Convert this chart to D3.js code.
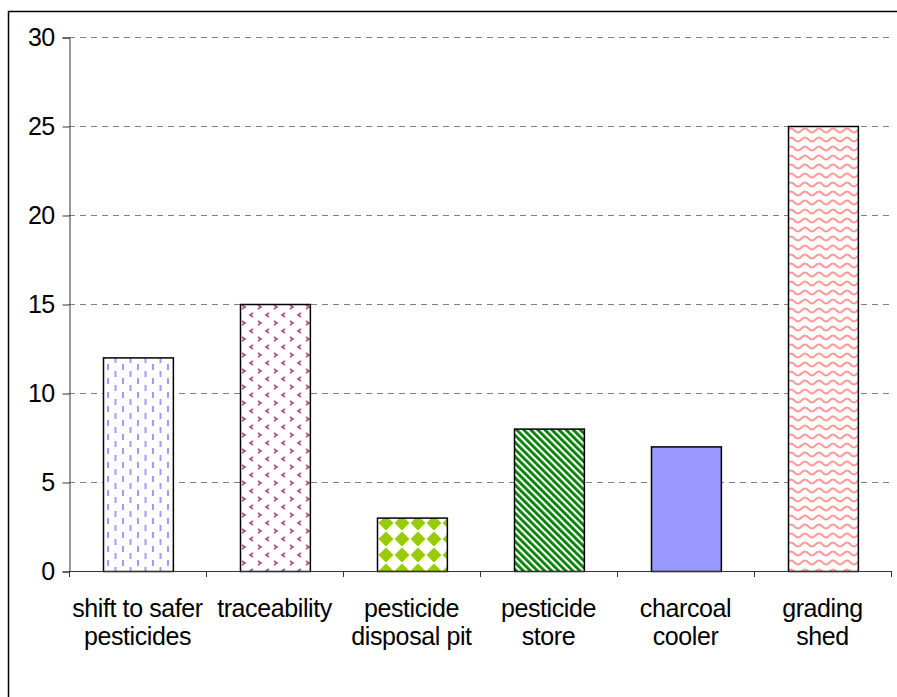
<!DOCTYPE html>
<html><head><meta charset="utf-8">
<script src="https://cdn.jsdelivr.net/npm/d3@7"></script>
<style>body{margin:0;background:#fff}svg{display:block}</style>
</head><body>
<svg id="c" width="897" height="697"></svg>
<script>
const categories = [["shift to safer","pesticides"],["traceability"],["pesticide","disposal pit"],["pesticide","store"],["charcoal","cooler"],["grading","shed"]];
const values = [12, 15, 3, 8, 7, 25];
const yTicks = [0, 5, 10, 15, 20, 25, 30];
const fills = ["url(#pBlue)", "url(#pMaroon)", "url(#pDiamond)", "url(#pStripe)", "#9999ff", "url(#pWave)"];

(function(){
const svg = d3.select("#c");
const defs = svg.append("defs");
const FONT = "Liberation Sans, Arial, sans-serif";
// blue dashed
let p = defs.append("pattern").attr("id","pBlue").attr("patternUnits","userSpaceOnUse").attr("width",15).attr("height",14);
p.append("rect").attr("width",15).attr("height",14).attr("fill","#fff");
p.append("rect").attr("x",2).attr("y",0).attr("width",2).attr("height",6).attr("fill","#8c8cff").attr("opacity",0.85);
p.append("rect").attr("x",9.5).attr("y",7).attr("width",2).attr("height",6).attr("fill","#8c8cff").attr("opacity",0.85);
// maroon chevrons
p = defs.append("pattern").attr("id","pMaroon").attr("patternUnits","userSpaceOnUse").attr("width",16).attr("height",16);
p.append("rect").attr("width",16).attr("height",16).attr("fill","#fff");
p.append("path").attr("d","M2,1 L5,3 L2,5").attr("fill","none").attr("stroke","#b05088").attr("stroke-width",1.7);
p.append("path").attr("d","M13,9 L10,11 L13,13").attr("fill","none").attr("stroke","#b05088").attr("stroke-width",1.7);
// green diamonds
p = defs.append("pattern").attr("id","pDiamond").attr("patternUnits","userSpaceOnUse").attr("width",16).attr("height",16).attr("x",378).attr("y",515);
p.append("rect").attr("width",16).attr("height",16).attr("fill","#fff");
p.append("path").attr("d","M8,0.5 L15.5,8 L8,15.5 L0.5,8 Z").attr("fill","#99cc00");
// green stripes
p = defs.append("pattern").attr("id","pStripe").attr("patternUnits","userSpaceOnUse").attr("width",5).attr("height",5).attr("patternTransform","rotate(-45)");
p.append("rect").attr("width",5).attr("height",5).attr("fill","#fff");
p.append("rect").attr("width",2.8).attr("height",5).attr("fill","#008000");
// red waves
p = defs.append("pattern").attr("id","pWave").attr("patternUnits","userSpaceOnUse").attr("width",14).attr("height",9);
p.append("rect").attr("width",14).attr("height",9).attr("fill","#fff");
p.append("path").attr("d","M0,6.5 C3,6.5 4,2.5 7,2.5 C10,2.5 11,6.5 14,6.5").attr("fill","none").attr("stroke","#ff9a9a").attr("stroke-width",2);

// outer border
svg.append("rect").attr("x",8.5).attr("y",11.5).attr("width",900).attr("height",700).attr("fill","none").attr("stroke","#000").attr("stroke-width",1.5);

const pl = 69, pr = 891, pt = 37, pb = 571;
const x = d3.scaleBand().domain(d3.range(categories.length)).range([pl, pr]).paddingInner(0.49).paddingOuter(0.245);
const y = d3.scaleLinear().domain([0, 30]).range([pb, pt]);

// grid
svg.append("g").selectAll("line").data(yTicks.filter(d=>d>0)).join("line")
  .attr("x1", pl).attr("x2", pr).attr("y1", d=>y(d)+0.5).attr("y2", d=>y(d)+0.5)
  .attr("stroke","#808080").attr("stroke-dasharray","6,5");

// bars
svg.append("g").selectAll("rect").data(values).join("rect")
  .attr("x",(d,i)=>Math.round(x(i))+0.5).attr("y",d=>y(d)+0.5)
  .attr("width",x.bandwidth()).attr("height",d=>pb-y(d))
  .attr("fill",(d,i)=>fills[i]).attr("stroke","#000").attr("stroke-width",1.5);

// y axis
const yAxis = d3.axisLeft(y).tickValues(yTicks).tickSize(7).tickPadding(8);
const gy = svg.append("g").attr("transform",`translate(${pl+0.5},0.5)`).call(yAxis);
gy.select(".domain").attr("stroke","#333");
gy.selectAll(".tick line").attr("stroke","#333");
gy.selectAll("text").attr("font-family",FONT).attr("font-size",25).attr("letter-spacing",-0.6).attr("fill","#000");

// x axis
const xEdges = d3.range(categories.length+1).map(i=>pl + i*(pr-pl)/categories.length);
const gx = svg.append("g");
gx.append("line").attr("x1",pl).attr("x2",pr).attr("y1",pb+0.5).attr("y2",pb+0.5).attr("stroke","#333");
gx.selectAll("line.t").data(xEdges).join("line").attr("class","t")
  .attr("x1",d=>Math.round(d)+0.5).attr("x2",d=>Math.round(d)+0.5).attr("y1",pb).attr("y2",pb+6).attr("stroke","#333");
const lab = gx.selectAll("text").data(categories).join("text")
  .attr("text-anchor","middle").attr("font-family",FONT).attr("font-size",25).attr("letter-spacing",-0.4).attr("fill","#000");
lab.each(function(d,i){
  const t = d3.select(this);
  d.forEach((s,j)=>t.append("tspan").attr("x",x(i)+x.bandwidth()/2).attr("y",617+j*28).text(s));
});
})();
</script>
</body></html>
